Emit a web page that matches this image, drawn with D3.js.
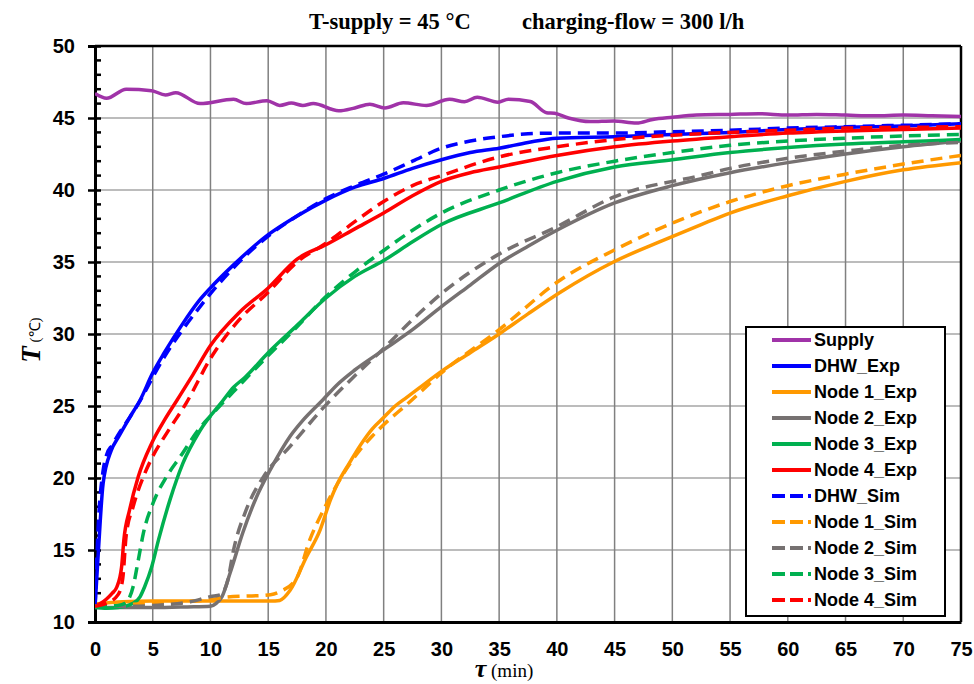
<!DOCTYPE html>
<html><head><meta charset="utf-8">
<script src="https://cdn.jsdelivr.net/npm/d3@7"></script>
<style>body{margin:0;background:#fff}svg{display:block}</style>
</head><body><svg id="c" width="974" height="684"></svg>
<script>
const xTicks = [0,5,10,15,20,25,30,35,40,45,50,55,60,65,70,75];
const yTicks = [10,15,20,25,30,35,40,45,50];

const supplyT = [0,1,2.7,4.9,6.1,7,9.1,12,13.1,14.9,16,17,18,18.9,21.1,22.5,23.8,25.1,26.7,28.7,30.7,32,33.1,34.9,35.8,37.7,39.1,39.8,41,42.9,44.9,46.9,48.3,50,52.1,55,57.5,60,62.5,65,67.5,70,72.5,75];
const supplyV = [46.7,46.37,47.0,46.9,46.6,46.76,46.0,46.3,46.0,46.2,45.87,46.04,45.87,46.0,45.5,45.7,45.96,45.7,46.06,45.87,46.3,46.13,46.44,46.1,46.3,46.14,45.37,45.33,45.0,44.75,44.8,44.65,44.9,45.05,45.2,45.25,45.3,45.2,45.25,45.2,45.15,45.2,45.15,45.1];

const dhwExpT = [0,0.3,0.7,1.4,2,3,3.9,5,6,7.5,9,10,12,15,17.5,20,22.5,25,27.5,30,32.5,35,37.5,40,45,50,55,60,65,70,75];
const dhwExpV = [11,15,19.6,21.9,22.8,24.2,25.4,27.3,28.7,30.6,32.3,33.2,34.8,36.9,38.2,39.3,40.2,40.8,41.5,42.1,42.6,42.9,43.3,43.6,43.7,43.85,44.0,44.2,44.35,44.45,44.6];

const n1ExpT = [0,2.4,5,10,15.2,16,16.9,18.3,19.5,20.4,21,22,23,24,25,26,27,28,30,32.5,35,37.5,40.3,44.9,49.2,52.5,55,60,65,70,75];
const n1ExpV = [11.25,11.4,11.45,11.45,11.45,11.5,12.2,14.5,16.4,18.5,19.6,21.0,22.3,23.4,24.2,25.0,25.6,26.2,27.4,28.7,30.0,31.4,32.9,35.0,36.5,37.6,38.4,39.6,40.6,41.4,41.9];

const n2ExpT = [0,2,5,8,10,10.5,11,11.7,12.8,14,15.2,16.9,18,19.7,21,22.5,25,27.5,30,32.5,35,37.5,40,45,50,55,60,65,70,75];
const n2ExpV = [11.0,11.0,11.0,11.05,11.1,11.3,11.76,13.4,16.2,18.7,20.6,22.9,24.0,25.4,26.5,27.5,28.9,30.3,31.9,33.4,34.9,36.1,37.2,39.1,40.3,41.2,41.9,42.5,43.0,43.4];

const n3ExpT = [0,1,2,3.3,3.9,4.3,4.9,5.5,6.5,7.6,9.1,11.1,12,13,15,17.5,20,22.5,25,27.5,30,35,40,45,50,55,60,65,70,75];
const n3ExpV = [11.0,10.95,11.0,11.3,11.75,12.45,13.8,15.7,18.5,21.0,23.3,25.4,26.3,27.0,28.7,30.6,32.5,34.0,35.1,36.4,37.6,39.1,40.6,41.6,42.1,42.6,42.95,43.2,43.35,43.5];

const n4ExpT = [0,0.5,1,1.5,1.9,2.3,2.5,3,3.75,4.9,6,7.1,8.5,10,12.5,15,17.5,20,22.5,25,27.5,30,32.5,35,40,45,50,55,60,65,70,75];
const n4ExpV = [11.1,11.3,11.6,12.0,12.45,13.8,15.7,17.8,20.1,22.4,24.0,25.4,27.2,29.2,31.5,33.2,35.2,36.2,37.3,38.4,39.6,40.6,41.2,41.6,42.4,43.0,43.4,43.7,43.95,44.1,44.2,44.3];

const dhwSimT = [0,0.3,0.7,1,1.5,2,3,4,5,6,7.5,9,10,12,15,17.5,20,22.5,25,27.5,30,32.5,35,37.5,40,45,50,55,60,65,70,75];
const dhwSimV = [11,17,20.5,21.6,22.3,23,24.2,25.5,27,28.4,30.2,31.8,32.8,34.6,36.8,38.2,39.4,40.3,41.1,42.0,42.9,43.4,43.7,43.9,43.95,43.95,44.05,44.15,44.3,44.4,44.5,44.6];

const n1SimT = [0,5,10,11.1,15.2,16,17.5,18.6,19.8,21,22,23,24,25,27,30,35,40.3,44.9,50,55,60,65,70,75];
const n1SimV = [11.1,11.3,11.55,11.7,11.9,12.1,13.1,15.7,17.8,19.6,20.9,22.0,22.9,23.7,25.1,27.3,30.3,33.75,35.8,37.7,39.2,40.3,41.1,41.8,42.4];

const n2SimT = [0,3,6,8.2,10,10.9,11.5,12,13.1,14.6,16.9,19.8,22.5,25,27.5,30.4,32.5,35.1,40,44.9,52.4,55,60,65,70,75];
const n2SimV = [11.1,11.1,11.2,11.4,11.76,11.9,12.9,15.0,17.8,20.1,22.2,24.9,27.1,29.0,31.0,33.06,34.3,35.6,37.45,39.5,41.0,41.5,42.2,42.7,43.1,43.3];

const n3SimT = [0,1,2,2.6,3.3,3.75,4.2,5.05,6.2,7.4,9.1,10,12,15,17.5,20,22.5,25,27.5,30,35,40,45,50,55,60,65,70,75];
const n3SimV = [11.1,11.1,11.15,11.3,12.45,14.3,16.2,18.3,20.1,21.5,23.5,24.3,26.0,28.5,30.5,32.6,34.3,35.8,37.2,38.4,40.0,41.2,42.0,42.6,43.1,43.4,43.6,43.75,43.85];

const n4SimT = [0,1,2,2.4,2.7,3.3,4.3,5,6.2,7.9,10,12.5,15,17.5,20,22.5,25,27.5,30,35,40,45,50,55,60,65,70,75];
const n4SimV = [11.1,11.3,11.9,13.0,16.0,18.0,20.3,21.5,23.1,25.2,28.3,31.0,32.9,35.0,36.3,37.8,39.2,40.3,41.0,42.3,43.0,43.5,43.8,44.0,44.15,44.3,44.35,44.4];

const seriesNames = ["Supply","DHW_Exp","Node 1_Exp","Node 2_Exp","Node 3_Exp","Node 4_Exp","DHW_Sim","Node 1_Sim","Node 2_Sim","Node 3_Sim","Node 4_Sim"];
const seriesT = [supplyT,dhwExpT,n1ExpT,n2ExpT,n3ExpT,n4ExpT,dhwSimT,n1SimT,n2SimT,n3SimT,n4SimT];
const seriesV = [supplyV,dhwExpV,n1ExpV,n2ExpV,n3ExpV,n4ExpV,dhwSimV,n1SimV,n2SimV,n3SimV,n4SimV];
const seriesColors = ["#A033A8","#0000FF","#FF9900","#767171","#00B050","#FF0000","#0000FF","#FF9900","#767171","#00B050","#FF0000"];
const seriesDashed = [false,false,false,false,false,false,true,true,true,true,true];

const svg = d3.select("#c");
const m = {l:95, r:13, t:46, b:62};
const W = 974, H = 684;
const x = d3.scaleLinear().domain([0,75]).range([m.l, W-m.r]);
const y = d3.scaleLinear().domain([10,50]).range([H-m.b, m.t]);

// grid
svg.append("g").selectAll("line").data(yTicks.slice(1,-1)).join("line")
  .attr("x1",x(0)).attr("x2",x(75)).attr("y1",d=>y(d)).attr("y2",d=>y(d))
  .attr("stroke","#A6A6A6").attr("stroke-width",1.5);
svg.append("g").selectAll("line").data(xTicks.slice(1)).join("line")
  .attr("x1",d=>x(d)).attr("x2",d=>x(d)).attr("y1",y(10)).attr("y2",y(50))
  .attr("stroke","#808080").attr("stroke-width",1.5);

// frame top/right
svg.append("line").attr("x1",x(0)).attr("x2",x(75)).attr("y1",y(50)).attr("y2",y(50)).attr("stroke","#000").attr("stroke-width",2.5);
svg.append("line").attr("x1",x(75)).attr("x2",x(75)).attr("y1",y(50)).attr("y2",y(10)).attr("stroke","#000").attr("stroke-width",2.5);

// y axis
const yAxis = svg.append("g").attr("transform",`translate(${x(0)},0)`)
  .call(d3.axisLeft(y).tickValues(yTicks).tickSize(7).tickPadding(13).tickFormat(d3.format("d")));
yAxis.select(".domain").attr("stroke-width",3);
yAxis.selectAll(".tick line").attr("stroke-width",2.5).attr("x2",-7).attr("x1",6);
yAxis.selectAll(".tick text").attr("font-family","Arial, 'Liberation Sans', sans-serif").attr("font-weight","bold").attr("font-size",20).attr("fill","#000");
// minor ticks
svg.append("g").selectAll("line").data(d3.range(11,50).filter(v=>v%5!==0)).join("line")
  .attr("x1",x(0)).attr("x2",x(0)+6).attr("y1",d=>y(d)).attr("y2",d=>y(d))
  .attr("stroke","#000").attr("stroke-width",2.5);

// x axis
const xAxis = svg.append("g").attr("transform",`translate(0,${y(10)})`)
  .call(d3.axisBottom(x).tickValues(xTicks).tickSize(0).tickPadding(20).tickFormat(d3.format("d")));
xAxis.select(".domain").attr("stroke-width",3);
xAxis.selectAll(".tick text").attr("font-family","Arial, 'Liberation Sans', sans-serif").attr("font-weight","bold").attr("font-size",20).attr("fill","#000");

// lines
const clip = svg.append("clipPath").attr("id","pc").append("rect")
  .attr("x",x(0)).attr("y",y(50)).attr("width",x(75)-x(0)).attr("height",y(10)-y(50));
const line = d3.line().x(d=>x(d[0])).y(d=>y(d[1])).curve(d3.curveMonotoneX);
const lg = svg.append("g").attr("clip-path","url(#pc)");
seriesNames.forEach((n,i)=>{
  const pts = seriesT[i].map((t,j)=>[t,seriesV[i][j]]);
  lg.append("path").datum(pts).attr("d",line).attr("fill","none")
    .attr("stroke",seriesColors[i]).attr("stroke-width",3.5)
    .attr("stroke-linejoin","round")
    .attr("stroke-dasharray",seriesDashed[i]?"12,7":null);
});

// legend
const L = svg.append("g");
L.append("rect").attr("x",746).attr("y",327).attr("width",199).attr("height",289)
  .attr("fill","#fff").attr("stroke","#000").attr("stroke-width",2);
seriesNames.forEach((n,i)=>{
  const yy = 340 + i*26;
  L.append("line").attr("x1",772).attr("x2",811).attr("y1",yy).attr("y2",yy)
    .attr("stroke",seriesColors[i]).attr("stroke-width",4)
    .attr("stroke-dasharray",seriesDashed[i]?"13,5":null);
  L.append("text").attr("x",814).attr("y",yy+6).text(n)
    .attr("font-family","Arial, 'Liberation Sans', sans-serif").attr("font-weight","bold").attr("font-size",18);
});

// title
const tf = "'Times New Roman', 'Liberation Serif', serif";
svg.append("text").attr("x",309).attr("y",29).text("T-supply = 45 °C")
  .attr("font-family",tf).attr("font-weight","bold").attr("font-size",22.5);
svg.append("text").attr("x",522).attr("y",29).text("charging-flow = 300 l/h")
  .attr("font-family",tf).attr("font-weight","bold").attr("font-size",22.5);

// y title
const yt = svg.append("text").attr("transform","translate(40,340) rotate(-90)").attr("text-anchor","middle")
  .attr("font-family",tf);
yt.append("tspan").text("T").attr("font-weight","bold").attr("font-style","italic").attr("font-size",27);
yt.append("tspan").text(" (℃)").attr("font-size",15);

// x title
const xt = svg.append("text").attr("x",504).attr("y",677).attr("text-anchor","middle").attr("font-family",tf);
xt.append("tspan").text("τ").attr("font-weight","bold").attr("font-style","italic").attr("font-size",26);
xt.append("tspan").text(" (min)").attr("font-size",19);
</script></body></html>
